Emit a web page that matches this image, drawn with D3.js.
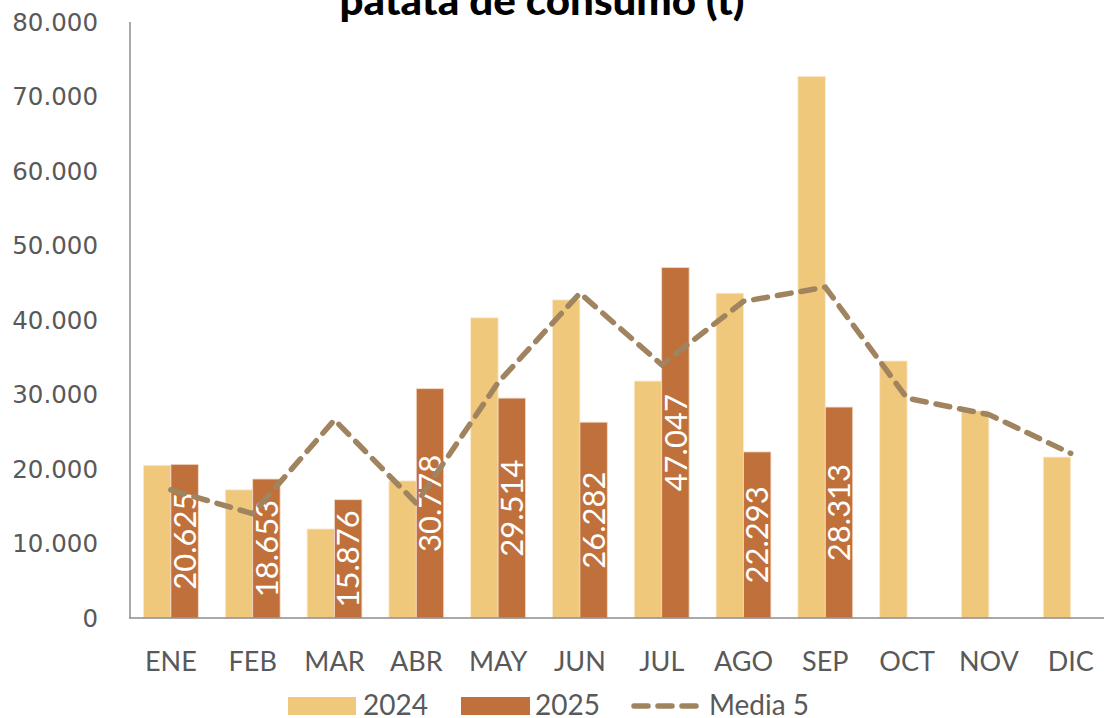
<!DOCTYPE html>
<html>
<head>
<meta charset="utf-8">
<script src="https://cdn.jsdelivr.net/npm/d3@7"></script>
<style>
  html, body { margin: 0; padding: 0; background: #fff; overflow: hidden; }
  svg { display: block; }
</style>
</head>
<body>
<div id="chart"></div>
<script>
// Monthly values (t)
var months  = ['ENE','FEB','MAR','ABR','MAY','JUN','JUL','AGO','SEP','OCT','NOV','DIC'];
var y2024   = [20500, 17200, 11950, 18400, 40300, 42700, 31800, 43600, 72700, 34500, 27800, 21600];
var y2025   = [20625, 18653, 15876, 30778, 29514, 26282, 47047, 22293, 28313, null, null, null];
var media5  = [17200, 14000, 26600, 15400, 31600, 43600, 34000, 42500, 44400, 29500, 27300, 22100];
var yTicks  = [0, 10000, 20000, 30000, 40000, 50000, 60000, 70000, 80000];

(function() {
  var W = 1104, H = 718;
  var C24 = '#F0C87B', C25 = '#C0703A', CLINE = '#A0845F', CTEXT = '#595959';

  var fmt = function(v) { return d3.format(',')(v).replace(/,/g, '.'); };

  var svg = d3.select('#chart').append('svg').attr('width', W).attr('height', H);

  var x0 = d3.scaleBand().domain(months).range([130, 1111.6])
    .paddingInner(0.33).paddingOuter(0.165);
  var x1 = d3.scaleBand().domain(['2024', '2025']).range([0, x0.bandwidth()]);
  var y  = d3.scaleLinear().domain([0, 80000]).range([618, 22]);

  // ── Title (top line is cut off in the reference) ────────────────────────
  svg.append('text').attr('x', 542).attr('y', 15).attr('text-anchor', 'middle')
    .attr('font-family', 'Lato, sans-serif').attr('font-weight', 900)
    .attr('font-size', '40px').attr('fill', '#000')
    .attr('textLength', 405).attr('lengthAdjust', 'spacingAndGlyphs')
    .text('patata de consumo (t)');

  // ── Bars ────────────────────────────────────────────────────────────────
  var g = svg.append('g');

  g.selectAll('rect.b24').data(months).enter().append('rect').attr('class', 'b24')
    .attr('x', function(d) { return x0(d) + x1('2024'); })
    .attr('width', x1.bandwidth())
    .attr('y', function(d, i) { return y(y2024[i]); })
    .attr('height', function(d, i) { return y(0) - y(y2024[i]); })
    .attr('fill', C24).attr('stroke', '#fbe9cf').attr('stroke-width', 0.8);

  var m25 = months.filter(function(d, i) { return y2025[i] != null; });

  g.selectAll('rect.b25').data(m25).enter().append('rect').attr('class', 'b25')
    .attr('x', function(d) { return x0(d) + x1('2025'); })
    .attr('width', x1.bandwidth())
    .attr('y', function(d, i) { return y(y2025[i]); })
    .attr('height', function(d, i) { return y(0) - y(y2025[i]); })
    .attr('fill', C25).attr('stroke', '#f2d9c8').attr('stroke-width', 0.8);

  // ── Axes ────────────────────────────────────────────────────────────────
  svg.append('line').attr('x1', 130).attr('x2', 130).attr('y1', y(80000)).attr('y2', y(0))
    .attr('stroke', '#8c8c8c').attr('stroke-width', 1.5);
  svg.append('line').attr('x1', 129).attr('x2', W).attr('y1', y(0)).attr('y2', y(0))
    .attr('stroke', '#8c8c8c').attr('stroke-width', 1.5);

  svg.append('g').selectAll('text').data(yTicks).enter().append('text')
    .attr('x', 98).attr('y', function(d) { return y(d); }).attr('dy', '0.36em')
    .attr('text-anchor', 'end').attr('font-family', 'DejaVu Sans, sans-serif')
    .attr('font-size', '24.5px').attr('fill', CTEXT)
    .text(function(d) { return fmt(d); });

  svg.append('g').selectAll('text').data(months).enter().append('text')
    .attr('x', function(d) { return x0(d) + x0.bandwidth() / 2; }).attr('y', 671)
    .attr('text-anchor', 'middle').attr('font-family', 'Lato, sans-serif')
    .attr('font-size', '27px').attr('fill', CTEXT)
    .text(function(d) { return d; });

  // ── Media 5 line ────────────────────────────────────────────────────────
  var line = d3.line()
    .x(function(d, i) { return x0(months[i]) + x0.bandwidth() / 2; })
    .y(function(d) { return y(d); });

  svg.append('path').datum(media5).attr('d', line)
    .attr('fill', 'none').attr('stroke', CLINE).attr('stroke-width', 5.5)
    .attr('stroke-dasharray', '14 10').attr('stroke-linecap', 'round');

  // ── Data labels (2025), rotated, centred in bar ─────────────────────────
  g.selectAll('text.lab').data(m25).enter().append('text').attr('class', 'lab')
    .attr('transform', function(d, i) {
      var cx = x0(d) + x1('2025') + x1.bandwidth() / 2;
      var cy = (y(y2025[i]) + y(0)) / 2;
      return 'translate(' + cx + ',' + cy + ') rotate(-90)';
    })
    .attr('text-anchor', 'middle').attr('dy', '0.36em')
    .attr('font-family', 'Lato, sans-serif').attr('font-size', '31px').attr('fill', '#fff')
    .text(function(d, i) { return fmt(y2025[i]); });

  // ── Legend ──────────────────────────────────────────────────────────────
  var lg = svg.append('g').attr('font-family', 'Lato, sans-serif')
    .attr('font-size', '28px').attr('fill', CTEXT);
  lg.append('rect').attr('x', 288).attr('y', 697).attr('width', 68).attr('height', 18).attr('fill', C24);
  lg.append('text').attr('x', 363).attr('y', 715).text('2024');
  lg.append('rect').attr('x', 461).attr('y', 697).attr('width', 69).attr('height', 18).attr('fill', C25);
  lg.append('text').attr('x', 535).attr('y', 715).text('2025');
  lg.append('line').attr('x1', 634).attr('x2', 697).attr('y1', 706).attr('y2', 706)
    .attr('stroke', CLINE).attr('stroke-width', 5.5).attr('stroke-dasharray', '14 10')
    .attr('stroke-linecap', 'round');
  lg.append('text').attr('x', 709).attr('y', 715).text('Media 5');
})();
</script>
</body>
</html>
